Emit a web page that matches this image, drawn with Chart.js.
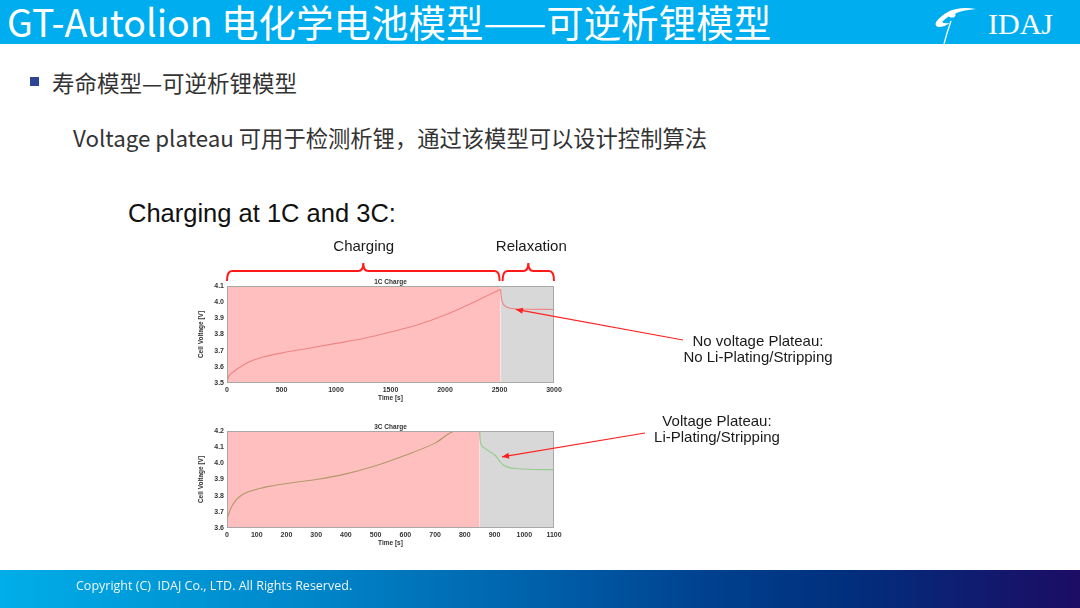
<!DOCTYPE html>
<html>
<head>
<meta charset="utf-8">
<script src="https://cdn.jsdelivr.net/npm/chart.js@4.4.1/dist/chart.umd.min.js"></script>
<style>
body { margin:0; width:1080px; height:608px; position:relative; overflow:hidden; background:#fff;
       font-family:"Noto Sans CJK SC","Noto Sans",sans-serif; }
.hdr { position:absolute; left:0; top:0; width:1080px; height:44px; background:#00AEEF; }
.hdr .t { position:absolute; left:7px; top:0px; color:#fff; font-size:37.5px; line-height:42px; white-space:nowrap; }
.bullet { position:absolute; left:30px; top:77px; width:9px; height:9px; background:#2E4496; }
.sub { position:absolute; left:52px; top:67px; font-size:22.5px; line-height:30px; color:#333; white-space:nowrap; }
.note { position:absolute; left:73px; top:122px; font-size:22.3px; line-height:30px; color:#333; white-space:nowrap; }
.chead { position:absolute; left:128px; top:198px; font-family:"Liberation Sans",Arial,sans-serif; font-size:25.5px; line-height:30px; color:#111; white-space:nowrap; }
.box { position:absolute; }
.ftr { position:absolute; left:0; top:570px; width:1080px; height:38px;
       background:linear-gradient(to right,#00AEE8 0%,#0084C8 30%,#0060AA 50%,#00408E 66%,#00307E 78%,#1C0C64 100%); }
.ftr .t { position:absolute; left:76px; top:7px; font-family:"Open Sans","Noto Sans",sans-serif; font-size:12.5px; color:#eef6fb; white-space:nowrap; }
#over { position:absolute; left:0; top:0; }
</style>
</head>
<body>
<div class="hdr">
  <div class="t">GT-Autolion 电化学电池模型——可逆析锂模型</div>
  <svg width="1080" height="44" style="position:absolute;left:0;top:0">
    <path d="M976 9 Q950 4 936 22 Q934 27 940 27 Q946 26 950 23 Q944 24 942 22 Q952 11 976 9 Z" fill="#fff"/>
    <circle cx="952" cy="14" r="3.6" fill="#fff"/>
    <path d="M951 21 Q947 32 944 44" stroke="#fff" stroke-width="1.3" fill="none"/>
    <text x="988" y="34" font-family="Liberation Serif, DejaVu Serif, serif" font-size="30" fill="#fff">IDAJ</text>
  </svg>
</div>
<div class="bullet"></div>
<div class="sub">寿命模型—可逆析锂模型</div>
<div class="note">Voltage plateau 可用于检测析锂，通过该模型可以设计控制算法</div>
<div class="chead">Charging at 1C and 3C:</div>

<div class="box" style="left:195px;top:274px;"><canvas id="c1" width="371" height="128"></canvas></div>
<div class="box" style="left:195px;top:419px;"><canvas id="c3" width="371" height="128"></canvas></div>

<svg id="over" width="1080" height="608"></svg>

<div class="ftr"><div class="t">Copyright (C)&nbsp; IDAJ Co., LTD. All Rights Reserved.</div></div>

<script>
// 1C charge: charging part, then relaxation
const time1C = [0, 10, 25, 50, 100, 200, 300, 500, 750, 1000, 1250, 1500, 1750, 2000, 2250, 2510];
const volt1C = [3.5, 3.53, 3.55, 3.565, 3.59, 3.63, 3.655, 3.685, 3.715, 3.745, 3.775, 3.815, 3.86, 3.92, 3.995, 4.08];
const relaxTime1C = [2510, 2515, 2522, 2535, 2560, 2600, 2650, 2750, 3000];
const relaxVolt1C = [4.08, 4.04, 4.01, 3.988, 3.972, 3.962, 3.958, 3.956, 3.955];

// 3C charge
const time3C = [0, 3, 8, 15, 25, 40, 60, 100, 150, 200, 300, 400, 500, 600, 700, 770, 850];
const volt3C = [3.65, 3.67, 3.70, 3.73, 3.76, 3.79, 3.815, 3.84, 3.86, 3.875, 3.90, 3.935, 3.985, 4.05, 4.125, 4.2, 4.2];
const relaxTime3C = [850, 852, 857, 870, 885, 902, 918, 930, 947, 970, 1010, 1100];
const relaxVolt3C = [4.2, 4.14, 4.11, 4.09, 4.07, 4.05, 4.01, 3.99, 3.975, 3.968, 3.963, 3.961];

// phase boundaries [start, end of charging, end of relaxation] in seconds
const phases1C = [0, 2510, 3000];
const phases3C = [0, 850, 1100];

const axis1C = { xMin: 0, xMax: 3000, xStep: 500, yMin: 3.5, yMax: 4.1 };
const axis3C = { xMin: 0, xMax: 1100, xStep: 100, yMin: 3.6, yMax: 4.2 };

const tickFont = { family: "Liberation Sans", size: 7, weight: "bold" };
const titleFont = { family: "Liberation Sans", size: 6.5, weight: "bold" };

function pts(xs, ys) {
    return xs.map((x, i) => ({ x: x, y: ys[i] }));
}

// small title + frame around plot area
const framePlugin = {
    id: "frame",
    afterDraw(chart, args, opts) {
        const a = chart.chartArea, ctx = chart.ctx;
        ctx.save();
        ctx.strokeStyle = "#a8a8a8";
        ctx.lineWidth = 1;
        ctx.strokeRect(a.left + 0.5, a.top + 0.5, a.right - a.left - 1, a.bottom - a.top - 1);
        ctx.fillStyle = "#333";
        ctx.font = "bold 6.5px 'Liberation Sans'";
        ctx.textAlign = "center";
        ctx.textBaseline = "bottom";
        ctx.fillText(opts.text, (a.left + a.right) / 2, a.top - 1);
        ctx.restore();
    }
};

function makeChart(id, title, axis, phases, charge, relax, lineColor, lineOnTop) {
    const top = axis.yMax;
    const redFill = {
        data: pts([phases[0], phases[1]], [top, top]),
        fill: "start", backgroundColor: "rgba(255,0,0,0.25)",
        borderWidth: 0, pointRadius: 0, order: lineOnTop ? 5 : 1
    };
    const greyFill = {
        data: pts([phases[1], phases[2]], [top, top]),
        fill: "start", backgroundColor: "#d8d8d8",
        borderWidth: 0, pointRadius: 0, order: 6
    };
    const lineStyle = { borderColor: lineColor, borderWidth: 1.1, pointRadius: 0, fill: false,
                        cubicInterpolationMode: "monotone", order: 3 };
    const chargeLine = Object.assign({ data: charge }, lineStyle);
    const relaxLine = Object.assign({ data: relax }, lineStyle);

    return new Chart(document.getElementById(id), {
        type: "line",
        data: { datasets: [redFill, greyFill, chargeLine, relaxLine] },
        options: {
            responsive: false,
            animation: false,
            layout: { padding: { top: 12, right: 12, left: 0, bottom: 0 } },
            plugins: { legend: { display: false }, tooltip: { enabled: false }, frame: { text: title } },
            scales: {
                x: {
                    type: "linear", min: axis.xMin, max: axis.xMax,
                    ticks: { stepSize: axis.xStep, font: tickFont, color: "#333", padding: 3, maxRotation: 0,
                             callback: v => String(v) },
                    grid: { display: false, drawTicks: false }, border: { display: false },
                    title: { display: true, text: "Time [s]", font: titleFont, color: "#333", padding: 0 },
                    afterFit: s => { s.height = 19; }
                },
                y: {
                    min: axis.yMin, max: axis.yMax,
                    ticks: { stepSize: 0.1, font: tickFont, color: "#333", padding: 3,
                             callback: v => v.toFixed(1) },
                    grid: { display: false, drawTicks: false }, border: { display: false },
                    title: { display: true, text: "Cell Voltage [V]", font: titleFont, color: "#333", padding: 2 },
                    afterFit: s => { s.width = 32; }
                }
            }
        },
        plugins: [framePlugin]
    });
}

const chart1 = makeChart("c1", "1C Charge", axis1C, phases1C,
    pts(time1C, volt1C), pts(relaxTime1C, relaxVolt1C), "#ef8484", true);
const chart3 = makeChart("c3", "3C Charge", axis3C, phases3C,
    pts(time3C, volt3C), pts(relaxTime3C, relaxVolt3C), "#96cc8e", false);

// annotations placed from the chart scales
function pagePos(chart, xv, yv) {
    const r = chart.canvas.getBoundingClientRect();
    return [r.left + chart.scales.x.getPixelForValue(xv), r.top + chart.scales.y.getPixelForValue(yv)];
}

const svg = document.getElementById("over");
const NS = "http://www.w3.org/2000/svg";
function add(tag, attrs, text) {
    const el = document.createElementNS(NS, tag);
    for (const k in attrs) el.setAttribute(k, attrs[k]);
    if (text) el.textContent = text;
    svg.appendChild(el);
    return el;
}

function brace(x1, x2, yTop, yEnd, yTip) {
    const xm = (x1 + x2) / 2, r = 5;
    const d = `M${x1},${yEnd} Q${x1},${yTop} ${x1 + r},${yTop} L${xm - r},${yTop} Q${xm},${yTop} ${xm},${yTip} ` +
              `Q${xm},${yTop} ${xm + r},${yTop} L${x2 - r},${yTop} Q${x2},${yTop} ${x2},${yEnd}`;
    add("path", { d: d, stroke: "#ff1a1a", "stroke-width": 2, fill: "none" });
}

function arrow(tail, tip) {
    add("line", { x1: tail[0], y1: tail[1], x2: tip[0], y2: tip[1], stroke: "#ff2020", "stroke-width": 1.2 });
    const ang = Math.atan2(tip[1] - tail[1], tip[0] - tail[0]);
    const L = 7, W = 3;
    const bx = tip[0] - L * Math.cos(ang), by = tip[1] - L * Math.sin(ang);
    const p1 = [bx + W * Math.sin(ang), by - W * Math.cos(ang)];
    const p2 = [bx - W * Math.sin(ang), by + W * Math.cos(ang)];
    add("polygon", { points: `${tip[0]},${tip[1]} ${p1[0]},${p1[1]} ${p2[0]},${p2[1]}`, fill: "#ff2020" });
}

function label(x, y, text) {
    add("text", { x: x, y: y, "text-anchor": "middle", "font-family": "Liberation Sans, Arial, sans-serif",
                  "font-size": 15, fill: "#1a1a1a" }, text);
}

const pA = pagePos(chart1, phases1C[0], axis1C.yMax);
const pB = pagePos(chart1, phases1C[1], axis1C.yMax);
const pC = pagePos(chart1, phases1C[2], axis1C.yMax);
brace(pA[0], pB[0] - 1, 271, 281, 263);
brace(pB[0] + 2, pC[0], 271, 281, 263);
label((pA[0] + pB[0]) / 2, 251, "Charging");
label((pB[0] + pC[0]) / 2 + 4, 251, "Relaxation");

arrow([683, 340], pagePos(chart1, 2650, 3.955));
label(758, 346, "No voltage Plateau:");
label(758, 362, "No Li-Plating/Stripping");

arrow([645, 433], pagePos(chart3, 925, 4.04));
label(717, 426, "Voltage Plateau:");
label(717, 442, "Li-Plating/Stripping");
</script>
</body>
</html>
